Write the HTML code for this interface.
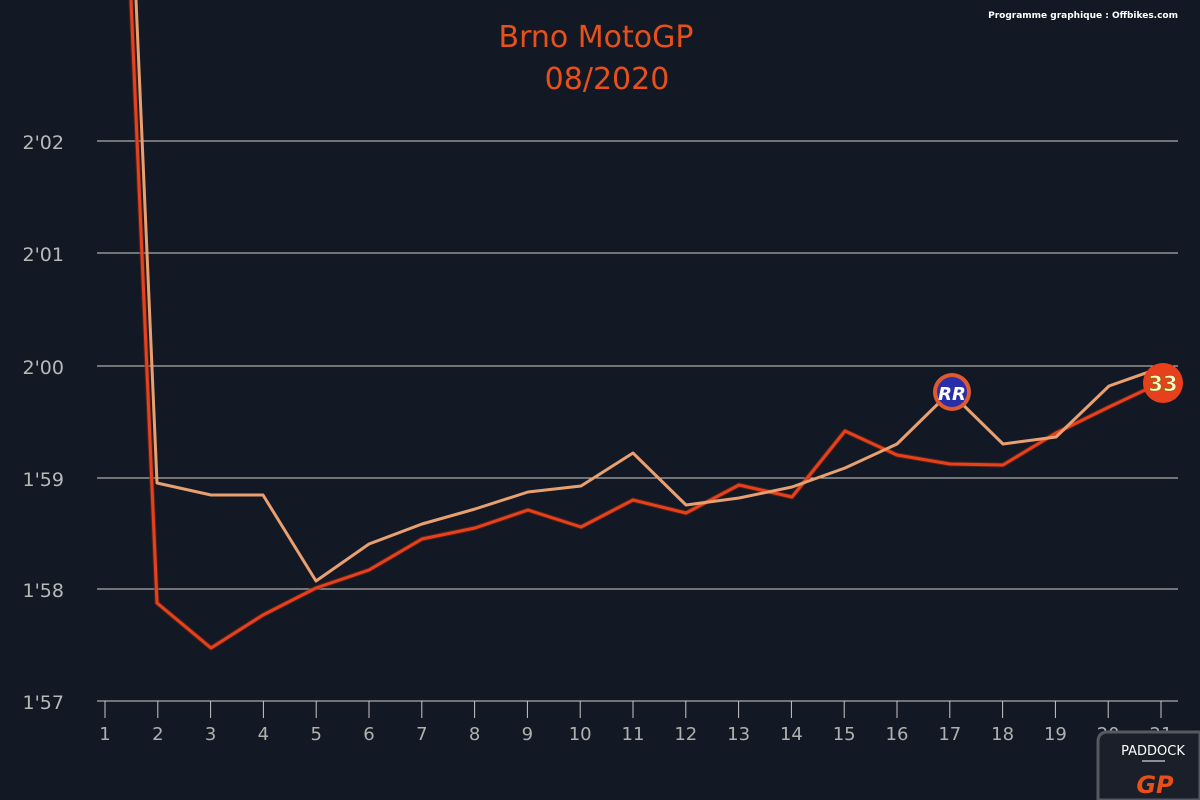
<!DOCTYPE html>
<html><head><meta charset="utf-8"><style>
html,body{margin:0;padding:0;background:#131924;}
svg{display:block}
text{font-family:"DejaVu Sans","Liberation Sans",sans-serif}
</style></head><body>
<svg width="1200" height="800" viewBox="0 0 1200 800" xmlns="http://www.w3.org/2000/svg">
<rect width="1200" height="800" fill="#131924"/>
<text x="596" y="47" text-anchor="middle" font-size="30" fill="#e8501a">Brno MotoGP</text>
<text x="607" y="89" text-anchor="middle" font-size="30" fill="#e8501a">08/2020</text>
<text x="1178" y="18" text-anchor="end" font-size="9" font-weight="bold" fill="#ffffff">Programme graphique : Offbikes.com</text>
<g stroke="#d0d0d0" stroke-width="1">
<line x1="97" y1="141" x2="1178" y2="141"/>
<line x1="97" y1="253" x2="1178" y2="253"/>
<line x1="97" y1="366" x2="1178" y2="366"/>
<line x1="97" y1="478" x2="1178" y2="478"/>
<line x1="97" y1="589" x2="1178" y2="589"/>
<line x1="97" y1="701" x2="1178" y2="701"/>
</g>
<g fill="#b8b8b8" font-size="19" text-anchor="end">
<text x="64" y="149">2'02</text><text x="64" y="261">2'01</text><text x="64" y="374">2'00</text>
<text x="64" y="486">1'59</text><text x="64" y="597">1'58</text><text x="64" y="709">1'57</text>
</g>
<g id="ticks" stroke="#c8c8c8" stroke-width="1"></g>
<g id="xl" fill="#b0b0b0" font-size="18" text-anchor="middle"></g>
<polyline fill="none" stroke="#7a2a10" stroke-width="5" stroke-linejoin="round" opacity="0.6" points="131,0 157,603 211,648 263,615 316,588 369,570 422,539 475,528 528,510 581,527 633,500 686,513 739,485 792,497 845,431 897,455 950,464 1003,465 1056,433 1109,407 1160,383"/>
<polyline fill="none" stroke="#e8401c" stroke-width="3" stroke-linejoin="round" points="131,0 157,603 211,648 263,615 316,588 369,570 422,539 475,528 528,510 581,527 633,500 686,513 739,485 792,497 845,431 897,455 950,464 1003,465 1056,433 1109,407 1160,383"/>
<polyline fill="none" stroke="#e8a070" stroke-width="3" stroke-linejoin="round" points="136,0 157,483 211,495 263,495 316,581 369,544 422,524 475,509 528,492 581,486 633,453 686,505 739,498 792,487 845,468 897,444 950,392 1003,444 1056,437 1109,386 1160,368"/>
<circle cx="952" cy="392" r="19" fill="#e05a30"/>
<circle cx="952" cy="392" r="15" fill="#2a2ea8"/>
<text x="952" y="400" text-anchor="middle" font-size="18" font-weight="bold" font-style="italic" fill="#ffffff">RR</text>
<circle cx="1163" cy="383" r="20" fill="#e8401c"/>
<text x="1163" y="391" text-anchor="middle" font-size="21" font-weight="bold" fill="#fff6d0" stroke="#8a6a00" stroke-width="0.8">33</text>
<path d="M1098,800 L1098,742 Q1098,732 1108,732 L1200,732 L1200,800 Z" fill="#1a1f29" stroke="#555a62" stroke-width="3"/>
<text x="1153" y="755" text-anchor="middle" font-size="13" fill="#ffffff">PADDOCK</text>
<line x1="1142" y1="761" x2="1165" y2="761" stroke="#fff" stroke-width="1"/>
<text x="1155" y="793" text-anchor="middle" font-size="24" font-weight="bold" font-style="italic" fill="#e8501a">GP</text>
<script>
var t=document.getElementById('ticks'),l=document.getElementById('xl'),ns='http://www.w3.org/2000/svg';
for(var i=1;i<=21;i++){var x=105+(i-1)*52.8;
var ln=document.createElementNS(ns,'line');ln.setAttribute('x1',x);ln.setAttribute('x2',x);ln.setAttribute('y1',701);ln.setAttribute('y2',718);t.appendChild(ln);
var tx=document.createElementNS(ns,'text');tx.setAttribute('x',x);tx.setAttribute('y',740);tx.textContent=i;l.appendChild(tx);}
</script>
</svg>
</body></html>
